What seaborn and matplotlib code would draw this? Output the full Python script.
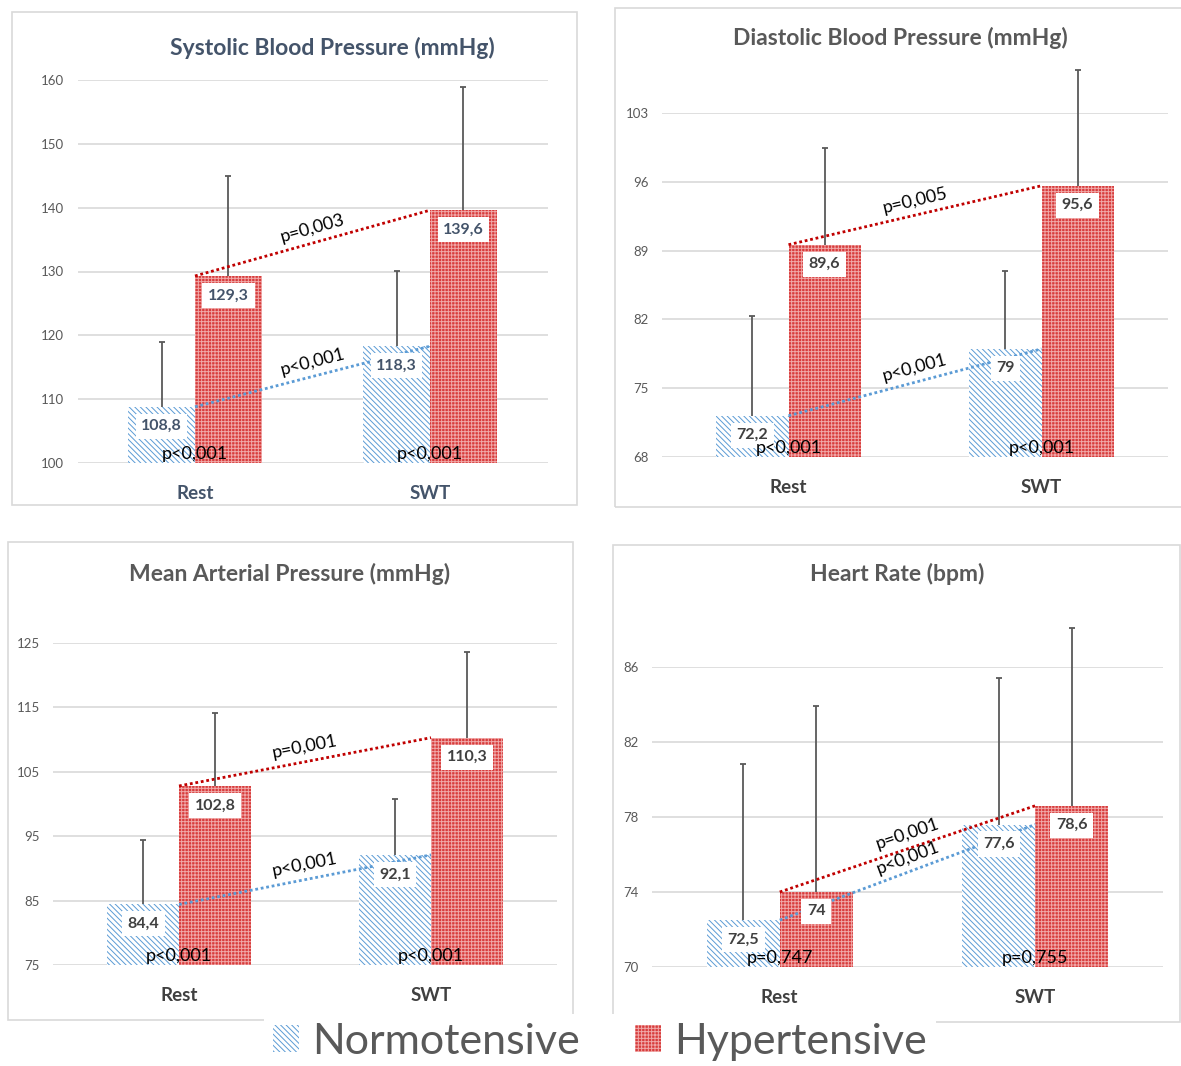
import numpy as np
import pandas as pd
import matplotlib
matplotlib.use("Agg")
import matplotlib.pyplot as plt
import seaborn as sns
from matplotlib.patches import Patch, Rectangle

# ---- data ----
phases = ["Rest", "SWT"]
groups = ["Normotensive", "Hypertensive"]

sbp_normo = [108.8, 118.3]
sbp_hyper = [129.3, 139.6]
sbp_normo_sd = [10.1, 11.8]
sbp_hyper_sd = [15.7, 19.3]

dbp_normo = [72.2, 79.0]
dbp_hyper = [89.6, 95.6]
dbp_normo_sd = [10.1, 7.9]
dbp_hyper_sd = [9.8, 11.8]

map_normo = [84.4, 92.1]
map_hyper = [102.8, 110.3]
map_normo_sd = [10.0, 8.7]
map_hyper_sd = [11.3, 13.3]

hr_normo = [72.5, 77.6]
hr_hyper = [74.0, 78.6]
hr_normo_sd = [8.35, 7.8]
hr_hyper_sd = [9.9, 9.5]

sbp_ticks = [100, 110, 120, 130, 140, 150, 160]
dbp_ticks = [68, 75, 82, 89, 96, 103]
map_ticks = [75, 85, 95, 105, 115, 125]
hr_ticks = [70, 74, 78, 82, 86]

titles = ["Systolic Blood Pressure (mmHg)", "Diastolic Blood Pressure (mmHg)",
          "Mean Arterial Pressure (mmHg)", "Heart Rate (bpm)"]
p_hyper_change = ["p=0,003", "p=0,005", "p=0,001", "p=0,001"]
p_normo_change = ["p<0,001", "p<0,001", "p<0,001", "p<0,001"]
p_between = [["p<0,001", "p<0,001"], ["p<0,001", "p<0,001"],
             ["p<0,001", "p<0,001"], ["p=0,747", "p=0,755"]]

# ---- style ----
sns.set_style("white")
plt.rcParams["font.family"] = ["Lato", "DejaVu Sans"]
plt.rcParams["hatch.linewidth"] = 0.7

BLUE = "#5B9BD5"
RED_FACE = "#D83C3C"
RED_HATCH = "#F0A8A8"
DARK_RED = "#C00000"
GRID = "#D9D9D9"
BLUE_HATCH = "\\" * 6
RED_PATTERN = "+" * 5

W, H = 1181, 1066
fig = plt.figure(figsize=(W / 100, H / 100), dpi=100)
fig.patch.set_facecolor("white")

# panel layout in pixels: (grid left, grid right, top gridline, bottom gridline)
boxes = [(77.5, 547.5, 80, 463), (662, 1168, 113, 457),
         (53, 557, 643, 965), (652, 1163, 667, 967)]
frames = [(12, 12, 577, 505), (615, 8, 1185, 507),
          (8, 542, 573, 1020), (613, 545, 1180, 1022)]
title_pos = [(332, 48), (900, 38), (290, 574), (897, 574)]
text_cols = ["#44546A", "#404040", "#404040", "#404040"]
title_cols = ["#44546A", "#595959", "#595959", "#595959"]

panels = [
    (sbp_normo, sbp_hyper, sbp_normo_sd, sbp_hyper_sd, sbp_ticks),
    (dbp_normo, dbp_hyper, dbp_normo_sd, dbp_hyper_sd, dbp_ticks),
    (map_normo, map_hyper, map_normo_sd, map_hyper_sd, map_ticks),
    (hr_normo, hr_hyper, hr_normo_sd, hr_hyper_sd, hr_ticks),
]


def fmt(v):
    return f"{v:g}".replace(".", ",")


for k, (normo, hyper, normo_sd, hyper_sd, ticks) in enumerate(panels):
    fx0, fy0, fx1, fy1 = frames[k]
    fig.add_artist(Rectangle((fx0 / W, 1 - fy1 / H), (fx1 - fx0) / W, (fy1 - fy0) / H,
                             transform=fig.transFigure, fill=False, ec=GRID, lw=1.2))

    x0, x1, yt, yb = boxes[k]
    ax = fig.add_axes([x0 / W, 1 - yb / H, (x1 - x0) / W, (yb - yt) / H])

    df = pd.DataFrame({
        "phase": phases * 2,
        "group": [groups[0]] * 2 + [groups[1]] * 2,
        "value": normo + hyper,
    })
    sns.barplot(data=df, x="phase", y="value", hue="group", order=phases,
                hue_order=groups, palette=["white", RED_FACE], width=0.57,
                errorbar=None, legend=False, ax=ax, zorder=2)

    ax.set_xlim(-0.5, 1.5)
    ax.set_ylim(ticks[0], ticks[-1])
    ax.set_yticks(ticks)
    ax.set_xlabel("")
    ax.set_ylabel("")
    sns.despine(ax=ax, left=True, bottom=True)
    ax.grid(axis="y", color=GRID, lw=1.2, zorder=0)
    ax.set_axisbelow(True)
    ax.tick_params(axis="y", length=0, pad=9.5, labelsize=9.5, labelcolor="#595959")
    ax.tick_params(axis="x", length=0, pad=16)
    for lab in ax.get_xticklabels():
        lab.set_fontsize(13.5)
        lab.set_fontweight("bold")
        lab.set_color(text_cols[k])

    normo_bars = list(ax.containers[0])
    hyper_bars = list(ax.containers[1])
    for b in normo_bars:
        b.set_facecolor("white")
        b.set_edgecolor(BLUE)
        b.set_hatch(BLUE_HATCH)
        b.set_linewidth(0)
    for b in hyper_bars:
        b.set_facecolor(RED_FACE)
        b.set_edgecolor(RED_HATCH)
        b.set_hatch(RED_PATTERN)
        b.set_linewidth(0)

    # error bars (upper only)
    for bars, vals, sds in [(normo_bars, normo, normo_sd), (hyper_bars, hyper, hyper_sd)]:
        for b, v, s in zip(bars, vals, sds):
            xc = b.get_x() + b.get_width() / 2
            eb = ax.errorbar(xc, v, yerr=[[0], [s]], fmt="none", ecolor="#595959",
                             elinewidth=1.3, capsize=2.5, capthick=1.3, zorder=3)
            for c in eb[1]:
                c.set_clip_on(False)
            eb[1][0].set_visible(False)
            for c in eb[2]:
                c.set_clip_on(False)
            ax.annotate(fmt(v), xy=(xc, v), xytext=(0, -14), textcoords="offset points",
                        ha="center", va="center", fontsize=11.5, fontweight="bold",
                        color=text_cols[k], zorder=5,
                        bbox=dict(boxstyle="square,pad=0.35", fc="white", ec="none"))

    # dotted change lines
    hx = [b.get_x() for b in hyper_bars]
    nx = [b.get_x() + b.get_width() for b in normo_bars]
    ax.plot(hx, hyper, color=DARK_RED, lw=2, ls=(0, (1, 1)), zorder=4)
    ax.plot(nx, normo, color=BLUE, lw=2, ls=(0, (1, 1)), zorder=4)

    for xs, ys, txt in [(hx, hyper, p_hyper_change[k]), (nx, normo, p_normo_change[k])]:
        p0 = ax.transData.transform((xs[0], ys[0]))
        p1 = ax.transData.transform((xs[1], ys[1]))
        ang = np.degrees(np.arctan2(p1[1] - p0[1], p1[0] - p0[0]))
        ax.annotate(txt, xy=((xs[0] + xs[1]) / 2, (ys[0] + ys[1]) / 2), xytext=(0, 10.5),
                    textcoords="offset points", ha="center", va="center",
                    rotation=ang, rotation_mode="anchor", fontsize=13, color="black",
                    zorder=6)

    for i, txt in enumerate(p_between[k]):
        ax.annotate(txt, xy=(i, ticks[0]), xytext=(0, 1), textcoords="offset points",
                    ha="center", va="bottom", fontsize=13, color="black", zorder=6)

    tx, ty = title_pos[k]
    fig.text(tx / W, 1 - ty / H, titles[k], ha="center", va="center", fontsize=16.5,
             fontweight="bold", color=title_cols[k])

handles = [
    Patch(facecolor="white", edgecolor=BLUE, hatch=BLUE_HATCH, lw=0),
    Patch(facecolor=RED_FACE, edgecolor=RED_HATCH, hatch=RED_PATTERN, lw=0),
]
leg = fig.legend(handles, groups, loc="center", bbox_to_anchor=(600 / W, 1 - 1042 / H),
                 ncol=2, fontsize=31, frameon=True, fancybox=False, facecolor="white",
                 edgecolor="none", framealpha=1, handlelength=0.6, handleheight=0.6,
                 handletextpad=0.3, columnspacing=1.3, labelcolor="#595959",
                 borderpad=0.2)

fig.savefig("out.png", dpi=100, facecolor="white")
